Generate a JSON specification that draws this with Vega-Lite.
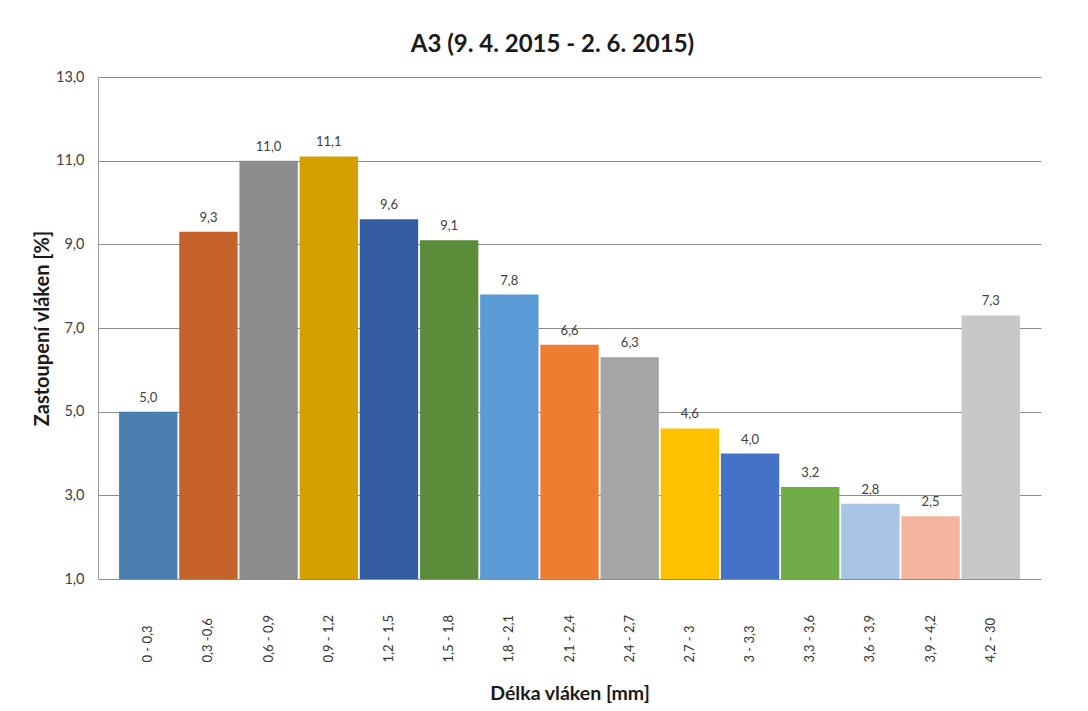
{
  "$schema": "https://vega.github.io/schema/vega-lite/v6.json",
  "width": 943,
  "height": 502,
  "autosize": {"type": "none"},
  "padding": {"left": 98, "top": 77, "right": 47, "bottom": 132},
  "background": "white",
  "title": {
    "text": "A3 (9. 4. 2015 - 2. 6. 2015)",
    "font": "Lato",
    "fontSize": 24,
    "fontWeight": "bold",
    "color": "#1a1a1a",
    "anchor": "middle",
    "dx": -17,
    "offset": 12
  },
  "data": {
    "values": [
      {"delka": "0 - 0,3", "podil": 5.0},
      {"delka": "0,3 -0,6", "podil": 9.3},
      {"delka": "0,6 - 0,9", "podil": 11.0},
      {"delka": "0,9 - 1,2", "podil": 11.1},
      {"delka": "1,2 - 1,5", "podil": 9.6},
      {"delka": "1,5 - 1,8", "podil": 9.1},
      {"delka": "1,8 - 2,1", "podil": 7.8},
      {"delka": "2,1 - 2,4", "podil": 6.6},
      {"delka": "2,4 - 2,7", "podil": 6.3},
      {"delka": "2,7 - 3", "podil": 4.6},
      {"delka": "3 - 3,3", "podil": 4.0},
      {"delka": "3,3 - 3,6", "podil": 3.2},
      {"delka": "3,6 - 3,9", "podil": 2.8},
      {"delka": "3,9 - 4,2", "podil": 2.5},
      {"delka": "4,2 - 30", "podil": 7.3}
    ]
  },
  "encoding": {
    "x": {
      "field": "delka",
      "type": "nominal",
      "sort": null,
      "scale": {"paddingInner": 0.03, "paddingOuter": 0.35},
      "axis": {
        "title": "Délka vláken [mm]",
        "titleFont": "Lato",
        "titleFontSize": 19.5,
        "titleFontWeight": "bold",
        "titleColor": "#1a1a1a",
        "titlePadding": 22,
        "labelAngle": 270,
        "labelAlign": "left",
        "labelBaseline": "middle",
        "labelPadding": 83,
        "labelFont": "Lato",
        "labelFontSize": 13,
        "labelColor": "#333333",
        "ticks": false,
        "domain": false,
        "grid": false
      }
    },
    "y": {
      "field": "podil",
      "type": "quantitative",
      "scale": {"domain": [1, 13], "zero": false, "nice": false},
      "axis": {
        "title": "Zastoupení vláken [%]",
        "titleFont": "Lato",
        "titleFontSize": 20,
        "titleFontWeight": "bold",
        "titleColor": "#1a1a1a",
        "titlePadding": 3,
        "values": [1, 3, 5, 7, 9, 11, 13],
        "format": ".1f",
        "labelFont": "Lato",
        "labelFontSize": 14.5,
        "labelColor": "#404040",
        "labelPadding": 14,
        "ticks": false,
        "domain": true,
        "domainColor": "#9a9a9a",
        "grid": true,
        "gridColor": "#8c8c8c",
        "gridWidth": 1
      }
    }
  },
  "layer": [
    {
      "mark": {"type": "bar"},
      "encoding": {
        "y2": {"datum": 1},
        "color": {
          "field": "delka",
          "type": "nominal",
          "legend": null,
          "scale": {
            "domain": ["0 - 0,3", "0,3 -0,6", "0,6 - 0,9", "0,9 - 1,2", "1,2 - 1,5", "1,5 - 1,8", "1,8 - 2,1", "2,1 - 2,4", "2,4 - 2,7", "2,7 - 3", "3 - 3,3", "3,3 - 3,6", "3,6 - 3,9", "3,9 - 4,2", "4,2 - 30"],
            "range": ["#4a7db0", "#c4622a", "#8c8c8c", "#d4a000", "#345c9e", "#5a8c3a", "#5b9bd5", "#ed7d31", "#a5a5a5", "#ffc000", "#4472c4", "#70ad47", "#a9c5e5", "#f4b4a0", "#c8c8c8"]
          }
        }
      }
    },
    {
      "mark": {
        "type": "text",
        "baseline": "bottom",
        "dy": -7,
        "font": "Lato",
        "fontSize": 13,
        "color": "#404040"
      },
      "encoding": {
        "text": {"field": "podil", "type": "quantitative", "format": ".1f"}
      }
    }
  ],
  "config": {
    "view": {"stroke": null},
    "locale": {
      "number": {
        "decimal": ",",
        "thousands": " ",
        "grouping": [3],
        "currency": ["", " Kč"]
      }
    }
  }
}
